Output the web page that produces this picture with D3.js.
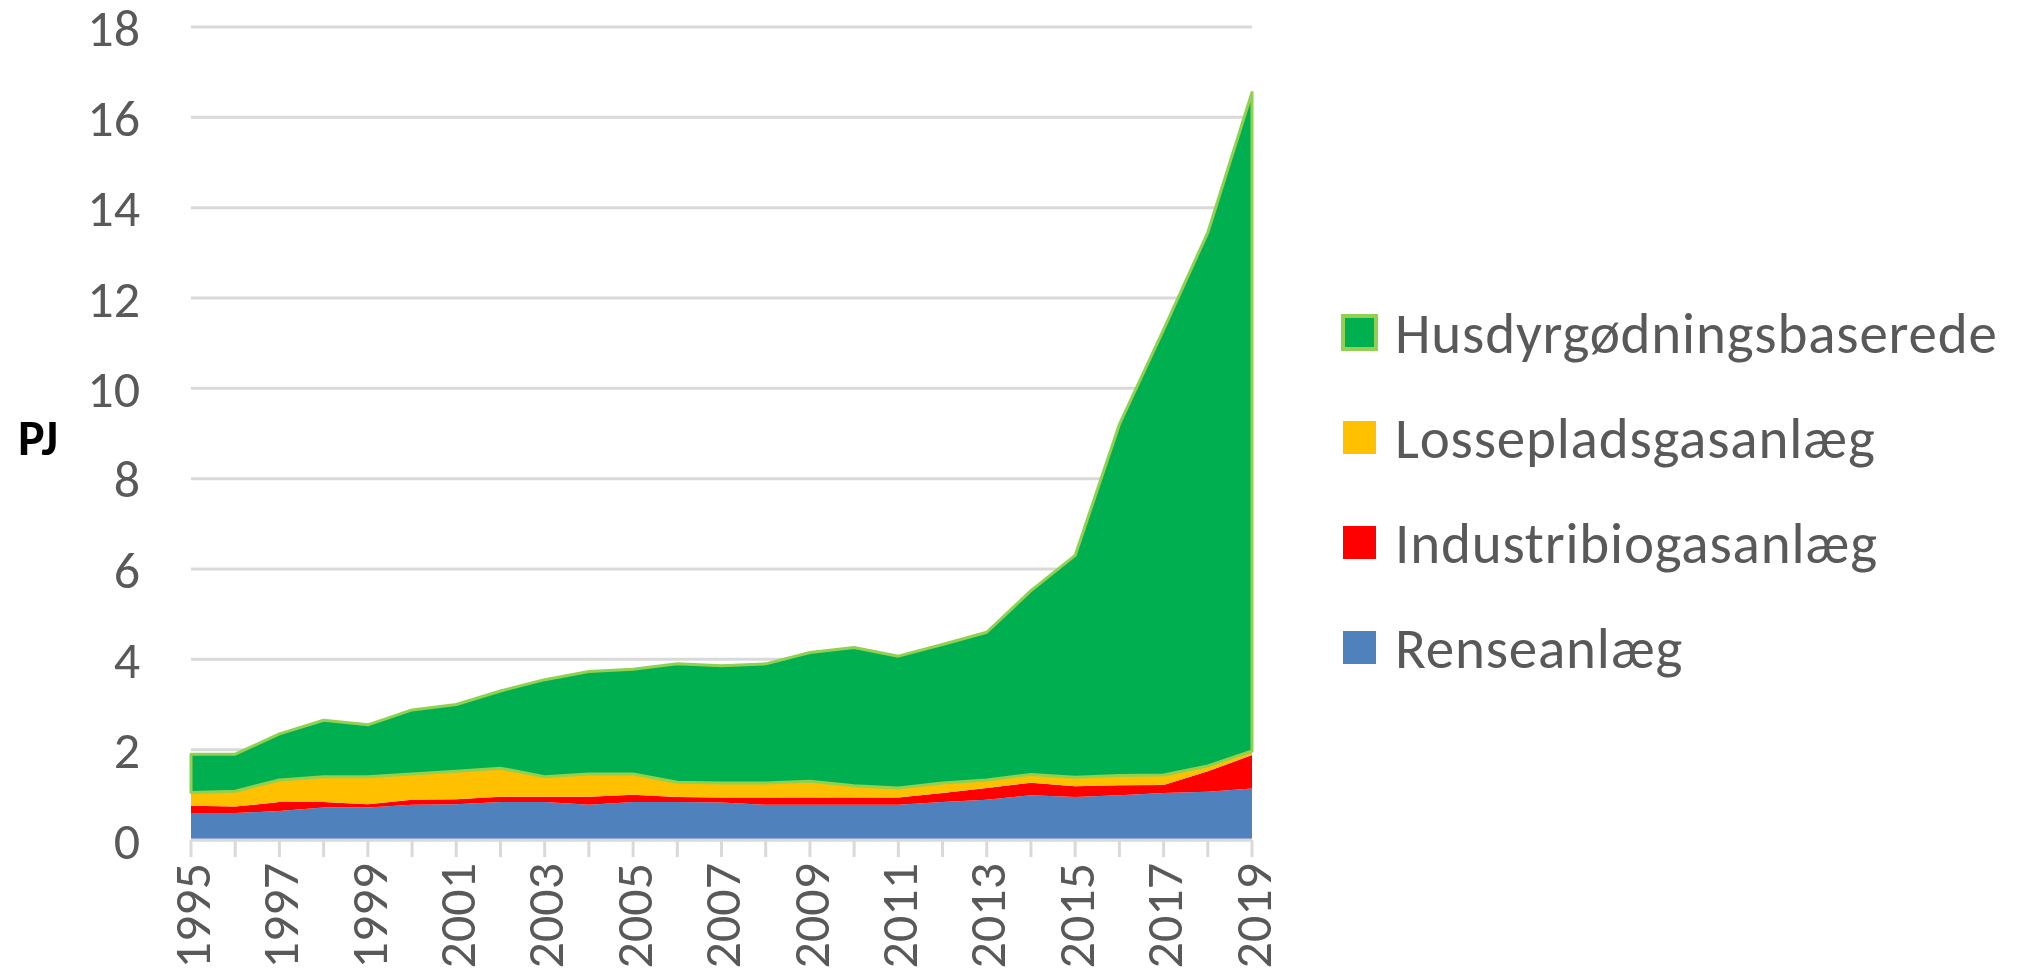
<!DOCTYPE html>
<html>
<head>
<meta charset="utf-8">
<title>Biogas PJ</title>
<script src="https://d3js.org/d3.v7.min.js" charset="utf-8"></script>
<style>
body { margin: 0; background: #fff; }
text { font-family: Carlito, Calibri, Lato, sans-serif; }
</style>
</head>
<body>
<script>
// years on the x axis
var years = d3.range(1995, 2020);
// series values, PJ
var renseanlaeg = [0.60,0.60,0.64,0.72,0.72,0.78,0.79,0.84,0.84,0.78,0.84,0.84,0.83,0.78,0.78,0.78,0.78,0.84,0.89,0.99,0.95,0.99,1.04,1.07,1.14];
var industri = [0.16,0.14,0.20,0.12,0.07,0.11,0.11,0.12,0.12,0.18,0.16,0.11,0.11,0.16,0.16,0.16,0.16,0.20,0.26,0.28,0.24,0.22,0.18,0.45,0.74];
var losseplads = [0.29,0.34,0.49,0.56,0.61,0.57,0.62,0.63,0.44,0.50,0.46,0.33,0.32,0.32,0.36,0.26,0.21,0.22,0.18,0.18,0.20,0.22,0.22,0.12,0.09];
var husdyr = [0.85,0.82,1.02,1.25,1.15,1.42,1.48,1.71,2.15,2.27,2.32,2.62,2.60,2.64,2.85,3.06,2.92,3.07,3.27,4.07,4.91,7.77,9.86,11.81,14.58];
var seriesNames = ["Renseanlæg", "Industribiogasanlæg", "Lossepladsgasanlæg", "Husdyrgødningsbaserede"];
var seriesColors = ["#4F81BD", "#FF0000", "#FFC000", "#00B050"];
var yTicks = [0, 2, 4, 6, 8, 10, 12, 14, 16, 18];
var xLabelYears = d3.range(1995, 2020, 2);

var width = 2020, height = 979;
var svg = d3.select("body").append("svg")
  .attr("width", width)
  .attr("height", height);

var x = d3.scaleLinear().domain([1995, 2019]).range([191, 1252]);
var y = d3.scaleLinear().domain([0, 18]).range([840, 27]);

var rows = years.map(function(yr, i) {
  return { year: yr, s0: renseanlaeg[i], s1: industri[i], s2: losseplads[i], s3: husdyr[i] };
});
var stack = d3.stack().keys(["s0", "s1", "s2", "s3"]);
var layers = stack(rows);

// grid lines
svg.append("g").selectAll("line")
  .data(yTicks)
  .enter().append("line")
  .attr("x1", x(1995)).attr("x2", x(2019))
  .attr("y1", function(d) { return y(d); })
  .attr("y2", function(d) { return y(d); })
  .attr("stroke", "#D9D9D9")
  .attr("stroke-width", 3);

// y axis labels
svg.append("g").selectAll("text")
  .data(yTicks)
  .enter().append("text")
  .attr("x", 140)
  .attr("y", function(d) { return y(d); })
  .attr("dy", "0.36em")
  .attr("text-anchor", "end")
  .attr("fill", "#595959")
  .attr("font-size", 52)
  .text(function(d) { return d; });

svg.append("text")
  .attr("x", 18).attr("y", 437)
  .attr("dy", "0.36em")
  .attr("font-size", 50)
  .attr("font-weight", "bold")
  .attr("fill", "#000")
  .text("PJ");

// areas
var area = d3.area()
  .x(function(d) { return x(d.data.year); })
  .y0(function(d) { return y(d[0]); })
  .y1(function(d) { return y(d[1]); });

svg.append("g").selectAll("path")
  .data(layers)
  .enter().append("path")
  .attr("d", area)
  .attr("fill", function(d, i) { return seriesColors[i]; })
  .attr("stroke", function(d, i) { return i == 3 ? "#92D050" : "none"; })
  .attr("stroke-width", 3)
  .attr("stroke-linejoin", "round");

// x axis line and ticks
svg.append("line")
  .attr("x1", x(1995)).attr("x2", x(2019))
  .attr("y1", y(0)).attr("y2", y(0))
  .attr("stroke", "#D9D9D9").attr("stroke-width", 3);

svg.append("g").selectAll("line")
  .data(years)
  .enter().append("line")
  .attr("x1", function(d) { return x(d); })
  .attr("x2", function(d) { return x(d); })
  .attr("y1", y(0)).attr("y2", y(0) + 17)
  .attr("stroke", "#D9D9D9").attr("stroke-width", 3);

svg.append("g").selectAll("text")
  .data(xLabelYears)
  .enter().append("text")
  .attr("transform", function(d) { return "translate(" + x(d) + "," + 863 + ") rotate(-90)"; })
  .attr("dy", "0.36em")
  .attr("text-anchor", "end")
  .attr("fill", "#595959")
  .attr("font-size", 52)
  .text(function(d) { return d; });

// legend, top series first
var legendOrder = [3, 2, 1, 0];
var legend = svg.append("g").selectAll("g")
  .data(legendOrder)
  .enter().append("g")
  .attr("transform", function(d, i) { return "translate(1343," + (332 + i * 105) + ")"; });

legend.append("rect")
  .attr("x", 0).attr("y", -16)
  .attr("width", 33).attr("height", 33)
  .attr("fill", function(d) { return seriesColors[d]; })
  .attr("stroke", function(d) { return d == 3 ? "#92D050" : "none"; })
  .attr("stroke-width", 4);

legend.append("text")
  .attr("x", 52).attr("y", 0)
  .attr("dy", "0.36em")
  .attr("fill", "#595959")
  .attr("font-size", 57)
  .attr("letter-spacing", 0.8)
  .text(function(d) { return seriesNames[d]; });
</script>
</body>
</html>
